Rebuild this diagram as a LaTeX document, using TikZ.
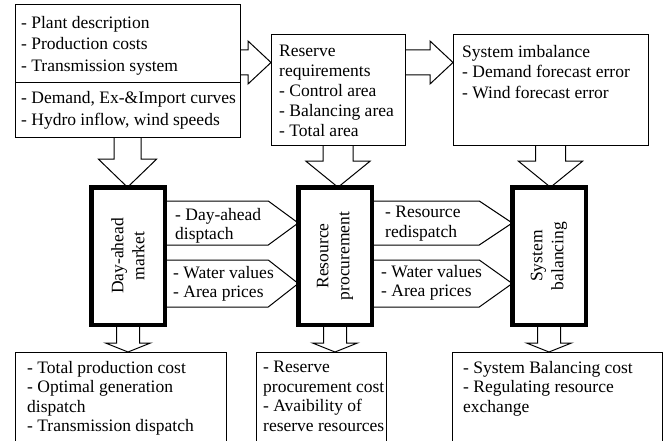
\documentclass[tikz,border=0pt]{standalone}
\usepackage{fontspec}
\setmainfont{Liberation Serif}
\usetikzlibrary{calc}
\newcommand{\cellbox}[5]{\node[cell, minimum width=#4pt, minimum height=#5pt] (#1) at (#2,#3) {};}
\newcommand{\lablnode}[4]{\node[labl] (#1) at (#2,#3) {#4};}
% block arrow to the right: start, tip
\newcommand{\rblock}[2]{\draw[blockline] let \p1=(#1), \p2=(#2) in (\x1,\y1+12.5pt) -- (\x2-23pt,\y1+12.5pt) -- (\x2-23pt,\y1+21.5pt) -- (\x2,\y1) -- (\x2-23pt,\y1-21.5pt) -- (\x2-23pt,\y1-12.5pt) -- (\x1,\y1-12.5pt);}
% block arrow downwards: start, tip, shaft, head, head length
\newcommand{\dblock}[5]{\draw[blockline] let \p1=(#1), \p2=(#2) in (\x1-#3pt,\y1) -- (\x1-#3pt,\y2+#5pt) -- (\x1-#4pt,\y2+#5pt) -- (\x1,\y2) -- (\x1+#4pt,\y2+#5pt) -- (\x1+#3pt,\y2+#5pt) -- (\x1+#3pt,\y1);}
% flat arrow between blocks: start, tip, top, bottom, head length
\newcommand{\chevarrow}[5]{\draw[blockline] let \p1=(#1), \p2=(#2) in (\x1,-#3pt) -- (\x2-#5pt,-#3pt) -- (\x2,-#3pt/2-#4pt/2) -- (\x2-#5pt,-#4pt) -- (\x1,-#4pt);}

\begin{document}
\begin{tikzpicture}[x=1pt,y=-1pt,
    font=\fontsize{17.5}{19.5}\selectfont,
    cell/.style={draw, line width=1pt, anchor=north west, inner sep=0pt, outer sep=0pt},
    mainbox/.style={draw, line width=4.5pt, minimum width=73.5pt, minimum height=137.5pt, inner sep=0pt, outer sep=0pt},
    labl/.style={anchor=north west, align=left, inner sep=0pt},
    vlabl/.style={rotate=90, align=center, inner sep=0pt, font=\fontsize{17.5}{21}\selectfont},
    blockline/.style={line width=1pt, line join=miter}]
    \useasboundingbox (0,0) rectangle (664,441);
    \clip (0,0) rectangle (664,441);
    % input data
    \cellbox{plant}{15}{5}{225}{78}
    \cellbox{series}{15}{83}{225}{55}
    \cellbox{reserve}{271}{35}{134}{111}
    \cellbox{imbal}{453}{35}{195}{111}
    \node[labl, font=\fontsize{17.5}{21.5}\selectfont] (planttxt) at (21,16) {- Plant description\\- Production costs\\- Transmission system};
    \node[labl, font=\fontsize{17.5}{22}\selectfont] (seriestxt) at (21,91) {- Demand, Ex-\&Import curves\\- Hydro inflow, wind speeds};
    \node[labl, font=\fontsize{17.5}{20}\selectfont] (reservetxt) at (279,45) {Reserve\\requirements\\- Control area\\- Balancing area\\- Total area};
    \node[labl, font=\fontsize{17.5}{20.5}\selectfont] (imbaltxt) at (462,45) {System imbalance\\- Demand forecast error\\- Wind forecast error};
    % models
    \node[mainbox] (dam) at (128,256) {};
    \node[mainbox] (rp) at (335,256) {};
    \node[mainbox] (sb) at (549,256) {};
    \node[vlabl] (damtxt) at (dam.center) {Day-ahead\\market};
    \node[vlabl] (rptxt) at (rp.center) {Resource\\procurement};
    \node[vlabl] (sbtxt) at (sb.center) {System\\balancing};
    % results
    \cellbox{out1}{15}{352}{211}{120}
    \cellbox{out2}{256}{352}{130}{120}
    \cellbox{out3}{452}{352}{210}{120}
    \lablnode{out1txt}{27}{361}{- Total production cost\\- Optimal generation\\dispatch\\- Transmission dispatch}
    \lablnode{out2txt}{263}{361}{- Reserve\\procurement cost\\- Avaibility of\\reserve resources}
    \lablnode{out3txt}{463}{361}{- System Balancing cost\\- Regulating resource\\exchange}
    % arrows
    \coordinate (lvl) at (0,62.5);
    \rblock{plant.east |- lvl}{reserve.west |- lvl}
    \rblock{reserve.east |- lvl}{imbal.west |- lvl}
    \dblock{series.south}{dam.north}{13.5}{29}{28}
    \dblock{reserve.south}{rp.north}{15}{32}{26}
    \dblock{imbal.south}{sb.north}{15}{32}{26}
    \dblock{dam.south}{out1.north}{11.5}{22.5}{9}
    \dblock{rp.south}{out2.north}{11.5}{22.5}{9}
    \dblock{sb.south}{out3.north}{11.5}{22.5}{9}
    \chevarrow{dam.east}{rp.west}{201}{245}{30}
    \chevarrow{dam.east}{rp.west}{260}{307}{30}
    \chevarrow{rp.east}{sb.west}{201}{245}{33}
    \chevarrow{rp.east}{sb.west}{260}{307}{33}
    \lablnode{dispatchtxt}{175}{208}{- Day-ahead\\disptach}
    \lablnode{valuestxt}{173}{266}{- Water values\\- Area prices}
    \lablnode{redispatchtxt}{385}{206}{- Resource\\redispatch}
    \lablnode{values2txt}{381}{265}{- Water values\\- Area prices}
\end{tikzpicture}
\end{document}
